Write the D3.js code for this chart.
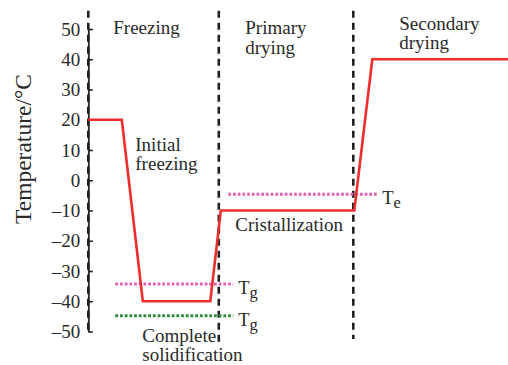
<!DOCTYPE html>
<html>
<head>
<meta charset="utf-8">
<script src="https://cdn.jsdelivr.net/npm/d3@7"></script>
<style>
  html, body { margin: 0; padding: 0; background: #fff; }
  svg { display: block; }
  text { font-family: "Liberation Serif", "Times New Roman", serif; fill: #2a2a2a; }
</style>
</head>
<body>
<svg id="chart" width="508" height="365"></svg>
<script>
// Process time (arbitrary units) and shelf temperature (°C)
const profileTime = [0, 3.35, 5.45, 12.2, 13.25, 26.6, 28.4, 42];
const profileTemp = [20, 20, -40, -40, -10, -10, 40, 40];

// Phase boundaries (time) with their vertical extent (°C)
const phaseTime   = [0, 13.05, 26.5];
const phaseTop    = [56, 56, 56];
const phaseBottom = [-50, -55, -52.5];

// Reference temperatures drawn as dotted lines
const refNames = ["Tg", "Tg", "Te"];
const refSub   = ["g", "g", "e"];
const refTemp  = [-34.3, -44.8, -4.6];
const refStart = [2.7, 2.7, 14.0];
const refEnd   = [14.5, 14.5, 28.9];
const refColor = ["#e462b4", "#2e8b3a", "#e462b4"];

const yTicks = [50, 40, 30, 20, 10, 0, -10, -20, -30, -40, -50];

// Annotation text lines, anchored at (time, temperature)
const labelText = [
  ["Freezing"], ["Primary", "drying"], ["Secondary", "drying"],
  ["Initial", "freezing"], ["Cristallization"], ["Complete", "solidification"]
];
const labelTime = [2.5, 15.7, 31.1, 4.7, 14.7, 5.4];
const labelTemp = [48.2, 48.2, 49.7, 9.8, -16.9, -53.4];

const svg = d3.select("#chart");
const x = d3.scaleLinear().domain([0, 42]).range([88.3, 508.3]);
const y = d3.scaleLinear().domain([-50, 50]).range([331.5, 29]);

// Phase boundaries
svg.append("g").selectAll("line")
  .data(phaseTime)
  .join("line")
  .attr("x1", d => x(d)).attr("x2", d => x(d))
  .attr("y1", (d, i) => y(phaseTop[i]))
  .attr("y2", (d, i) => y(phaseBottom[i]))
  .attr("stroke", "#222")
  .attr("stroke-width", 2.6)
  .attr("stroke-dasharray", "7,5");

// Y axis
const axis = d3.axisLeft(y)
  .tickValues(yTicks)
  .tickSizeInner(-4.5)
  .tickSizeOuter(0)
  .tickPadding(8)
  .tickFormat(d => d < 0 ? "\u2013" + Math.abs(d) : String(d));

const gAxis = svg.append("g")
  .attr("transform", `translate(${x(0)},0)`)
  .call(axis);
gAxis.select(".domain").attr("stroke", "#222").attr("stroke-width", 1.8);
gAxis.selectAll(".tick line").attr("stroke", "#222").attr("stroke-width", 1.6);
gAxis.selectAll(".tick text")
  .attr("font-family", "Liberation Serif, serif")
  .attr("font-size", 19)
  .attr("fill", "#2a2a2a");

svg.append("text")
  .attr("transform", `translate(31,149) rotate(-90)`)
  .attr("text-anchor", "middle")
  .attr("font-size", 23.5)
  .text("Temperature/°C");

// Reference temperature lines
refTemp.forEach((t, i) => {
  svg.append("line")
    .attr("x1", x(refStart[i])).attr("x2", x(refEnd[i]))
    .attr("y1", y(t)).attr("y2", y(t))
    .attr("stroke", refColor[i])
    .attr("stroke-width", 3)
    .attr("stroke-dasharray", "2.8,1.9");
  const lbl = svg.append("text")
    .attr("x", x(refEnd[i]) + 5)
    .attr("y", y(t) + 10)
    .attr("font-size", 18.5);
  lbl.append("tspan").text(refNames[i].charAt(0));
  lbl.append("tspan").attr("dy", 4).attr("font-size", 16.5).text(refSub[i]);
});

// Temperature profile
const profile = profileTime.map((t, i) => [t, profileTemp[i]]);
svg.append("path")
  .datum(profile)
  .attr("fill", "none")
  .attr("stroke", "#ef2d2d")
  .attr("stroke-width", 2.6)
  .attr("stroke-linejoin", "miter")
  .attr("d", d3.line().x(d => x(d[0])).y(d => y(d[1])));

// Annotations
labelText.forEach((lines, i) => {
  const t = svg.append("text")
    .attr("x", x(labelTime[i]))
    .attr("y", y(labelTemp[i]))
    .attr("font-size", 19);
  lines.forEach((s, j) => {
    t.append("tspan")
      .attr("x", x(labelTime[i]))
      .attr("dy", j === 0 ? 0 : 19.5)
      .text(s);
  });
});
</script>
</body>
</html>
